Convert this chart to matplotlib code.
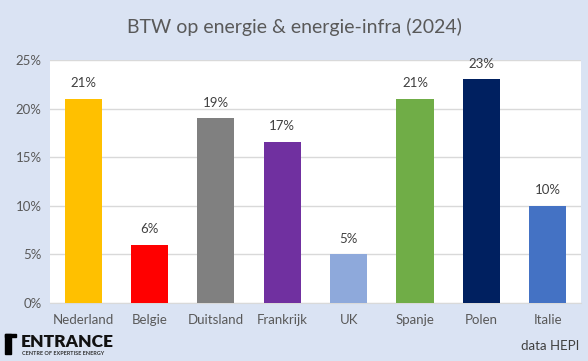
import matplotlib.pyplot as plt
from matplotlib.patches import Rectangle
from matplotlib.ticker import PercentFormatter

plt.rcParams['font.family'] = ['Lato', 'DejaVu Sans']

# data
landen = ['Nederland', 'Belgie', 'Duitsland', 'Frankrijk', 'UK', 'Spanje', 'Polen', 'Italie']
btw = [21, 6, 19, 16.6, 5, 21, 23, 10]
labels = ['21%', '6%', '19%', '17%', '5%', '21%', '23%', '10%']
kleuren = ['#FFC000', '#FF0000', '#808080', '#7030A0', '#8EA9DB', '#70AD47', '#002060', '#4472C4']

grijs = '#595959'
fig = plt.figure(figsize=(5.88, 3.61), dpi=100, facecolor='#DAE3F3')
ax = fig.add_axes([0.085, 0.161, 0.903, 0.673])
ax.set_facecolor('white')

x = range(len(landen))
bars = ax.bar(x, btw, width=0.56, color=kleuren, zorder=3)
for b, lab in zip(bars, labels):
    ax.text(b.get_x() + b.get_width() / 2, b.get_height() + 1.0, lab,
            ha='center', va='bottom', fontsize=9.5, color='#404040')

ax.set_ylim(0, 25)
ax.set_xlim(-0.5, len(landen) - 0.5)
ax.set_yticks([0, 5, 10, 15, 20, 25])
ax.yaxis.set_major_formatter(PercentFormatter(decimals=0))
ax.set_xticks(list(x))
ax.set_xticklabels(landen)
ax.tick_params(axis='both', length=0, labelsize=9.5, labelcolor=grijs)
ax.tick_params(axis='x', pad=8)
ax.tick_params(axis='y', pad=6)
ax.grid(axis='y', color='#D9D9D9', linewidth=1, zorder=0)
for s in ['left', 'right', 'top']:
    ax.spines[s].set_visible(False)
ax.spines['bottom'].set_color('#D9D9D9')

fig.text(0.5, 0.925, 'BTW op energie & energie-infra (2024)', ha='center', va='center',
         fontsize=14, color=grijs)
fig.text(0.985, 0.042, 'data HEPI', ha='right', va='center', fontsize=9.5, color='#404040')

# logo
fig.patches.append(Rectangle((0.0085, 0.019), 0.011, 0.056, transform=fig.transFigure,
                             color='black', zorder=5))
fig.patches.append(Rectangle((0.0085, 0.066), 0.019, 0.009, transform=fig.transFigure,
                             color='black', zorder=5))
fig.text(0.036, 0.052, 'ENTRANCE', ha='left', va='center', fontsize=12.5,
         fontweight='heavy', color='#111111')
fig.text(0.037, 0.022, 'CENTRE OF EXPERTISE ENERGY', ha='left', va='center',
         fontsize=4.0, fontweight='bold', color='#333333')

fig.savefig('out.png', dpi=100, facecolor=fig.get_facecolor())
